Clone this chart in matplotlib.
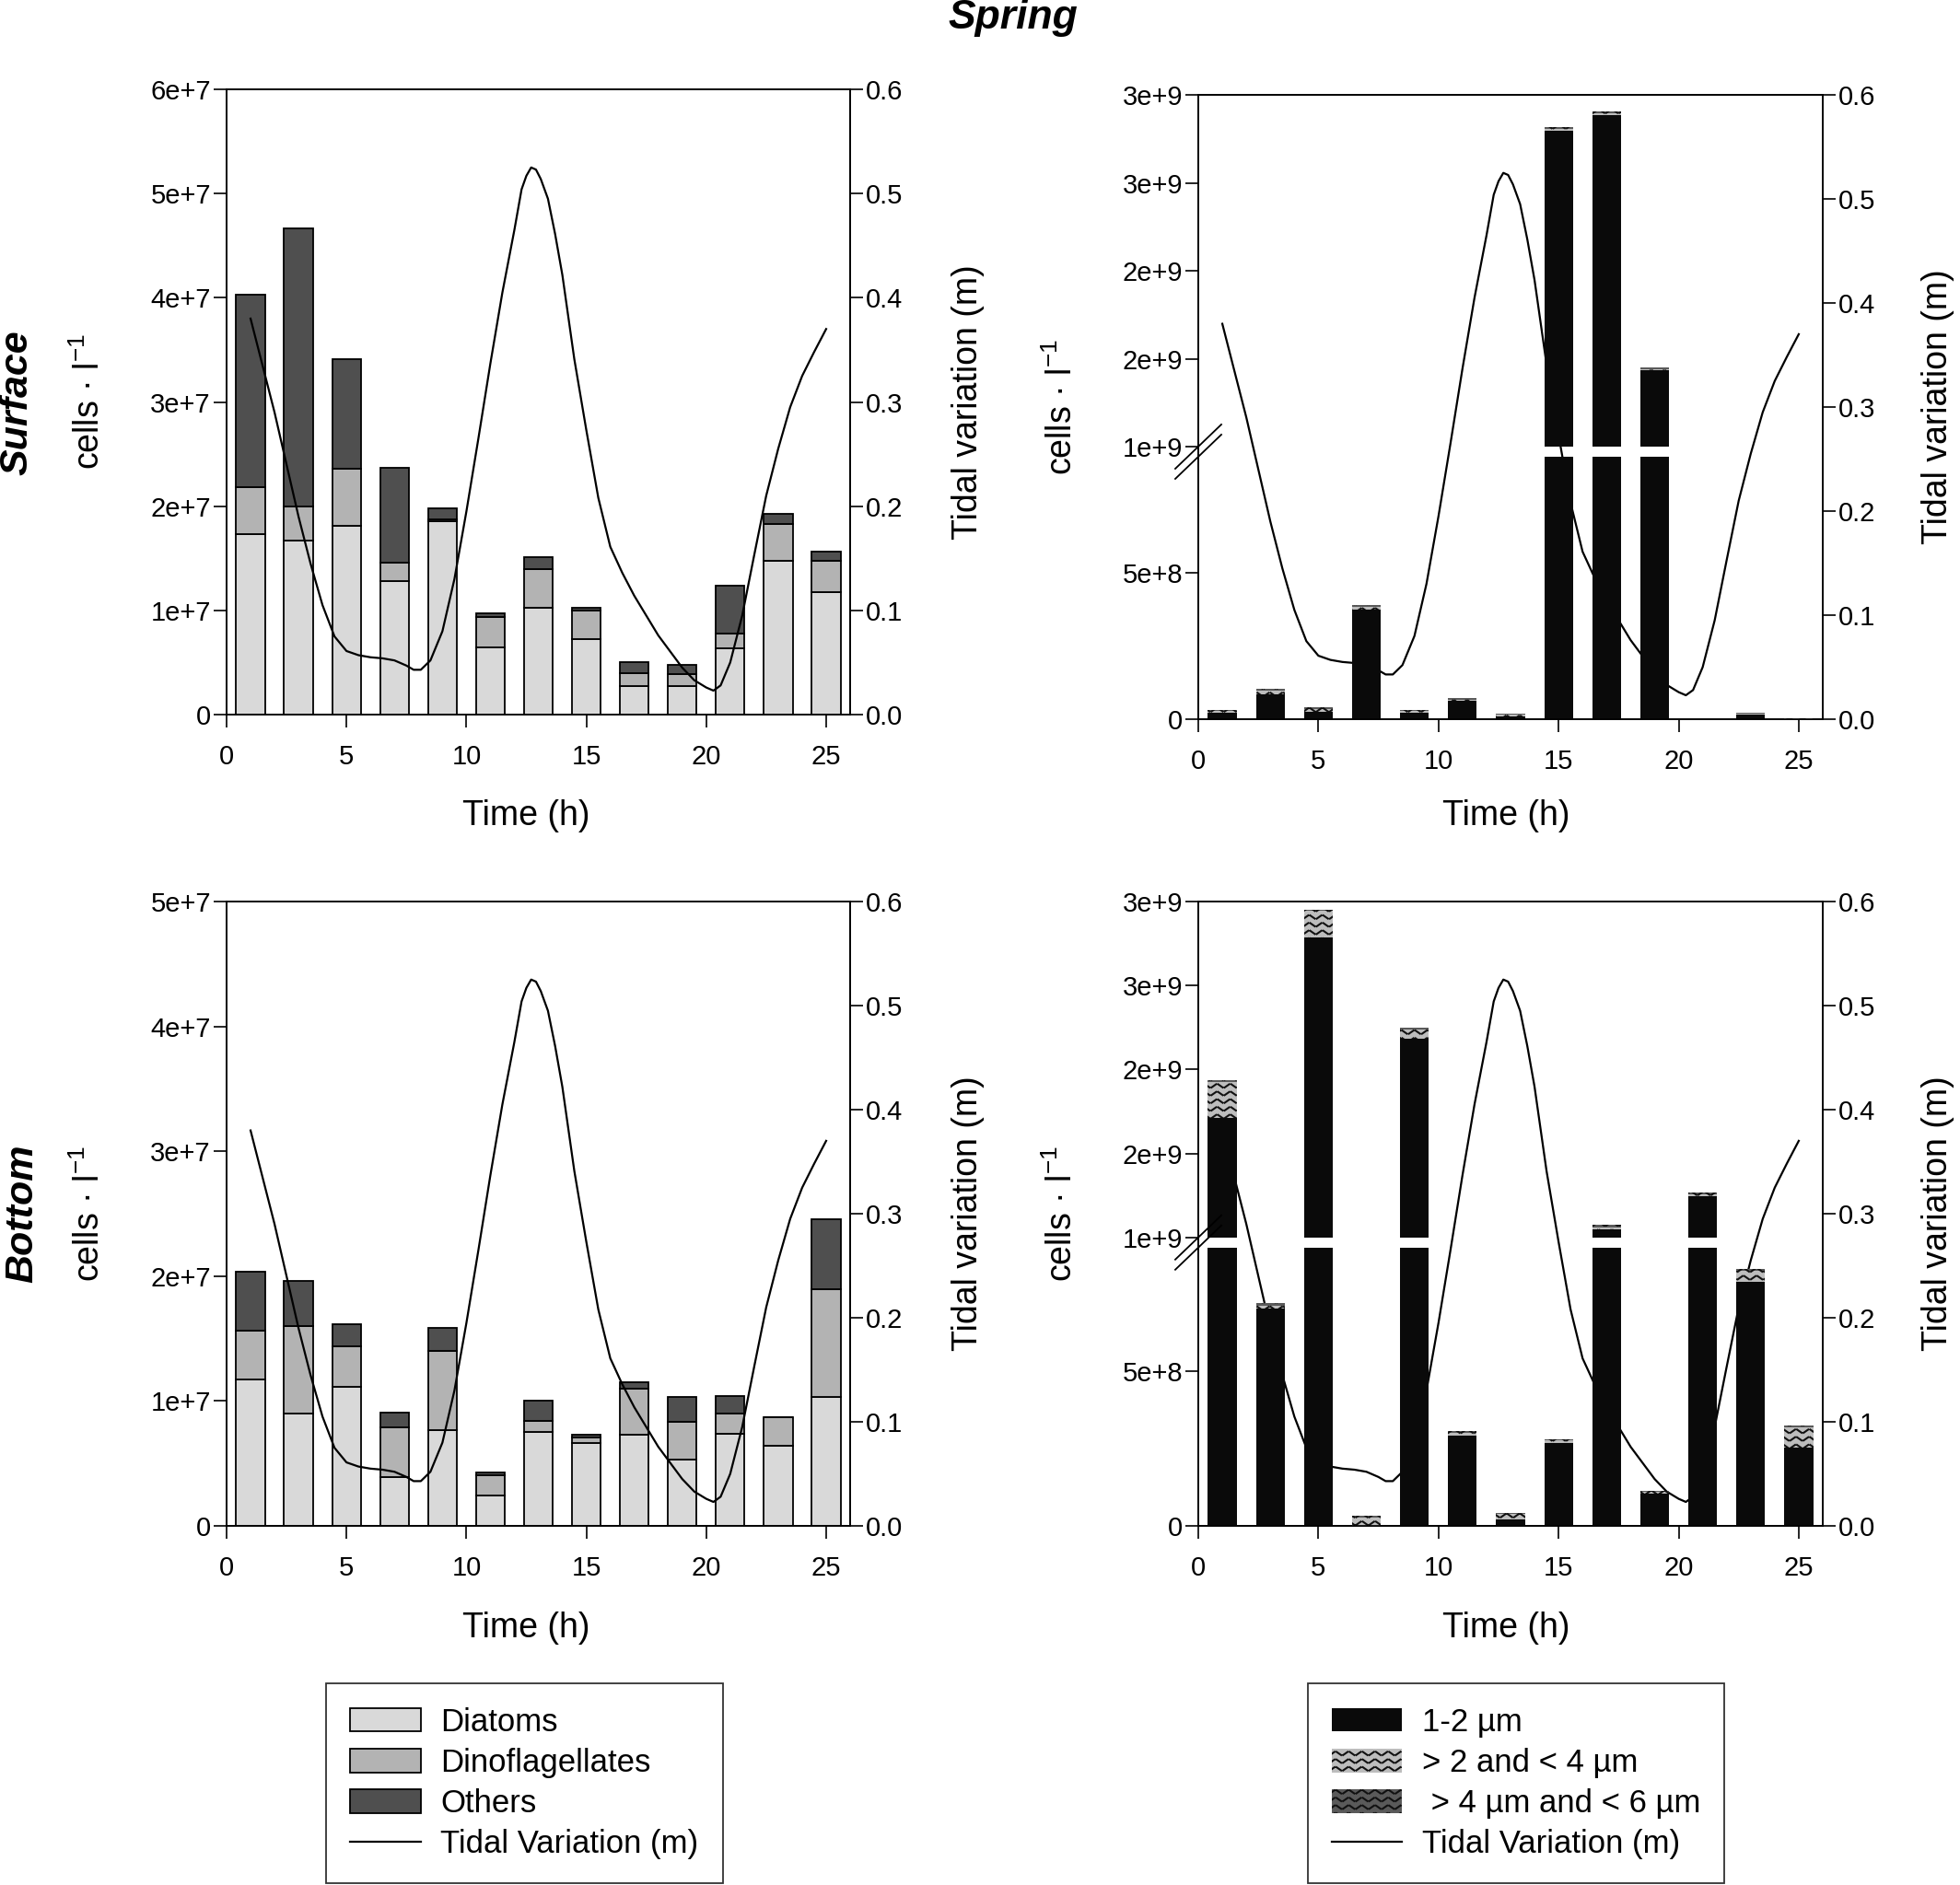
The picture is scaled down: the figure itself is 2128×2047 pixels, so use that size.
import warnings
import numpy as np
import matplotlib
matplotlib.use('Agg')
import matplotlib.pyplot as plt
from matplotlib import hatch as mhatch
from matplotlib.path import Path
from matplotlib.patches import Patch
from matplotlib.lines import Line2D

warnings.filterwarnings('ignore')
plt.rcParams['font.family'] = ['Liberation Sans', 'DejaVu Sans']
plt.rcParams['mathtext.fontset'] = 'custom'
plt.rcParams['mathtext.rm'] = 'Liberation Sans'
plt.rcParams['hatch.color'] = '#111111'
plt.rcParams['hatch.linewidth'] = 1.5

############################################################
# data (cells per litre)
############################################################
hours = [1, 3, 5, 7, 9, 11, 13, 15, 17, 19, 21, 23, 25]

# surface, phytoplankton groups
surf_diatoms = [1.735e7, 1.667e7, 1.81e7, 1.28e7, 1.855e7, 0.645e7, 1.026e7, 0.722e7, 0.274e7, 0.278e7, 0.637e7, 1.479e7, 1.175e7]
surf_dinos = [0.445e7, 0.333e7, 0.545e7, 0.18e7, 0.021e7, 0.291e7, 0.367e7, 0.278e7, 0.126e7, 0.115e7, 0.137e7, 0.346e7, 0.304e7]
surf_others = [1.85e7, 2.67e7, 1.055e7, 0.91e7, 0.104e7, 0.038e7, 0.117e7, 0.026e7, 0.104e7, 0.081e7, 0.466e7, 0.098e7, 0.089e7]

# bottom, phytoplankton groups
bot_diatoms = [1.175e7, 0.9e7, 1.111e7, 0.393e7, 0.764e7, 0.243e7, 0.75e7, 0.661e7, 0.732e7, 0.529e7, 0.739e7, 0.639e7, 1.036e7]
bot_dinos = [0.389e7, 0.7e7, 0.325e7, 0.393e7, 0.64e7, 0.164e7, 0.089e7, 0.046e7, 0.368e7, 0.303e7, 0.161e7, 0.232e7, 0.857e7]
bot_others = [0.468e7, 0.36e7, 0.178e7, 0.124e7, 0.185e7, 0.022e7, 0.161e7, 0.022e7, 0.054e7, 0.2e7, 0.143e7, 0.0, 0.561e7]

# surface, picoplankton size classes
surf_p12 = [2.2e7, 8.4e7, 2.4e7, 3.76e8, 2.1e7, 6.4e7, 1.1e7, 2.797e9, 2.886e9, 1.436e9, 0.0, 1.5e7, 0.1e7]
surf_p24 = [0.6e7, 1.3e7, 1.0e7, 0.9e7, 0.6e7, 0.3e7, 0.4e7, 0.9e7, 0.8e7, 0.8e7, 0.0, 0.4e7, 0.3e7]
surf_p46 = [0.3e7, 0.8e7, 0.6e7, 0.5e7, 0.4e7, 0.5e7, 0.3e7, 1.2e7, 1.2e7, 1.0e7, 0.0, 0.4e7, 0.05e7]

# bottom, picoplankton size classes
bot_p12 = [1.712e9, 7.02e8, 2.788e9, 0.0, 2.182e9, 2.93e8, 2.2e7, 2.69e8, 1.048e9, 1.05e8, 1.244e9, 7.88e8, 2.52e8]
bot_p24 = [2.15e8, 1.0e7, 1.55e8, 2.8e7, 5.6e7, 0.8e7, 1.8e7, 0.7e7, 1.3e7, 0.4e7, 1.4e7, 3.5e7, 6.5e7]
bot_p46 = [1.0e7, 0.7e7, 0.9e7, 0.4e7, 1.3e7, 0.6e7, 0.3e7, 0.5e7, 1.3e7, 0.3e7, 1.3e7, 0.6e7, 0.7e7]

# tidal variation (m)
tide_t = [1, 1.5, 2, 2.5, 3, 3.5, 4, 4.5, 5, 5.5, 6, 6.5, 7, 7.5, 7.8, 8.1, 8.5, 9, 9.5, 10, 10.5, 11, 11.5, 12,
          12.3, 12.5, 12.7, 12.9, 13.1, 13.4, 13.7, 14, 14.5, 15, 15.5, 16, 16.5, 17, 18, 19, 19.5, 20, 20.3,
          20.6, 21, 21.5, 22, 22.5, 23, 23.5, 24, 24.5, 25]
tide_h = [0.38, 0.335, 0.29, 0.24, 0.19, 0.145, 0.105, 0.075, 0.061, 0.057, 0.055, 0.054, 0.052, 0.047, 0.043,
          0.043, 0.052, 0.08, 0.13, 0.195, 0.265, 0.337, 0.405, 0.465, 0.504, 0.517, 0.525, 0.523, 0.514, 0.495,
          0.461, 0.422, 0.341, 0.273, 0.208, 0.161, 0.136, 0.114, 0.076, 0.045, 0.033, 0.026, 0.023, 0.028,
          0.05, 0.095, 0.153, 0.21, 0.255, 0.295, 0.325, 0.348, 0.37]

group_names = ['Diatoms', 'Dinoflagellates', 'Others']
group_colors = ['#d9d9d9', '#b3b3b3', '#4f4f4f']
size_names = ['1-2 µm', '> 2 and < 4 µm', ' > 4 µm and < 6 µm']
size_colors = ['#0a0a0a', '#bdbdbd', '#5a5a5a']
size_hatch = [None, '~~', '~~']

tide_ticks = [0.0, 0.1, 0.2, 0.3, 0.4, 0.5, 0.6]
pico_ticks = [0, 5e8, 1e9, 1.5e9, 2e9, 2.5e9, 3e9]
pico_ticklabels = ['0', '5e+8', '1e+9', '2e+9', '2e+9', '3e+9', '3e+9']

BRK_LO, BRK_HI, PICO_TOP = 9e8, 1e9, 3e9


# dashed zig-zag hatch, close to the SigmaPlot wave fill
class WaveHatch(mhatch.HatchPatternBase):
    teeth = 7

    def __init__(self, hatch, density):
        self.num_rows = int(hatch.count('~') * density)
        self.num_vertices = self.num_rows * self.teeth * 2 * 2

    def set_vertices_and_codes(self, vertices, codes):
        rows = (np.arange(self.num_rows) + 0.5) / self.num_rows
        amp = 0.3 / self.num_rows
        step = 1.0 / (self.teeth * 2)
        i = 0
        for y in rows:
            for k in range(self.teeth * 2):
                x0, x1 = k * step, (k + 1) * step
                y0, y1 = (y - amp, y + amp) if k % 2 == 0 else (y + amp, y - amp)
                vertices[i] = (x0 + 0.15 * step, y0 + 0.15 * (y1 - y0))
                vertices[i + 1] = (x1 - 0.15 * step, y1 - 0.15 * (y1 - y0))
                codes[i] = Path.MOVETO
                codes[i + 1] = Path.LINETO
                i += 2


mhatch._hatch_types.append(WaveHatch)

W, H = 2128, 2047
fig = plt.figure(figsize=(W / 100, H / 100), dpi=100)

def px_axes(x0, y0, x1, y1):
    return fig.add_axes([x0 / W, 1 - y1 / H, (x1 - x0) / W, (y1 - y0) / H])

TICK = 21
LAB = 27
BAR_W = 1.2


def style_axes(ax, ax2, xlab_pos, ylab_x, tlab_x):
    for a in (ax, ax2):
        for s in a.spines.values():
            s.set_linewidth(1.2)
        a.tick_params(direction='out', length=9.8, width=1.2, labelsize=TICK, pad=2.5)
    ax.tick_params(axis='x', top=False, pad=13)
    ax.set_xlim(0, 26)
    ax.set_xticks([0, 5, 10, 15, 20, 25])
    ax2.set_ylim(0, 0.6)
    ax2.set_yticks(tide_ticks)
    ax2.set_yticklabels(['%.1f' % v for v in tide_ticks])
    ax.set_xlabel('Time (h)', fontsize=LAB)
    ax.xaxis.set_label_coords(*xlab_pos)
    ax.set_ylabel(r'cells · l$^{-1}$', fontsize=LAB)
    ax.yaxis.set_label_coords(ylab_x, 0.5)
    ax2.set_ylabel('Tidal variation (m)', fontsize=LAB)
    ax2.yaxis.set_label_coords(tlab_x, 0.5)


def group_panel(box, diat, dino, oth, ymax, xlab_pos):
    ax = px_axes(*box)
    ax2 = ax.twinx()
    bottom = np.zeros(len(hours))
    for vals, col in zip([diat, dino, oth], group_colors):
        ax.bar(hours, vals, BAR_W, bottom=bottom, color=col, edgecolor='black', linewidth=1.3, zorder=2)
        bottom = bottom + np.array(vals)
    ax2.plot(tide_t, tide_h, color='black', linewidth=1.6)
    ax.set_ylim(0, ymax)
    ticks = np.arange(0, ymax + 1, 1e7)
    ax.set_yticks(ticks)
    ax.set_yticklabels(['0'] + ['%de+7' % int(v / 1e7) for v in ticks[1:]])
    style_axes(ax, ax2, xlab_pos, -0.192, 1.163)
    return ax


def pico_panel(box, layers, lo_frac, gap_frac, xlab_pos):
    up_frac = 1 - lo_frac - gap_frac

    def fwd(v):
        v = np.asarray(v, dtype=float)
        return np.where(v <= BRK_LO, v / BRK_LO * lo_frac,
                        np.where(v < BRK_HI, lo_frac + (v - BRK_LO) / (BRK_HI - BRK_LO) * gap_frac,
                                 lo_frac + gap_frac + (v - BRK_HI) / (PICO_TOP - BRK_HI) * up_frac))

    def inv(f):
        f = np.asarray(f, dtype=float)
        return np.where(f <= lo_frac, f / lo_frac * BRK_LO,
                        np.where(f < lo_frac + gap_frac, BRK_LO + (f - lo_frac) / gap_frac * (BRK_HI - BRK_LO),
                                 BRK_HI + (f - lo_frac - gap_frac) / up_frac * (PICO_TOP - BRK_HI)))

    ax = px_axes(*box)
    ax2 = ax.twinx()
    # tide line sits behind the bars here
    ax.set_zorder(ax2.get_zorder() + 1)
    ax.patch.set_visible(False)
    ax2.plot(tide_t, tide_h, color='black', linewidth=1.6)

    ax.set_yscale('function', functions=(fwd, inv))
    bottom = np.zeros(len(hours))
    for vals, col, hat in zip(layers, size_colors, size_hatch):
        top = bottom + np.array(vals)
        # piece below the break
        h1 = np.clip(np.minimum(top, BRK_LO) - bottom, 0, None)
        ax.bar(hours, h1, BAR_W, bottom=bottom, color=col, hatch=hat, linewidth=0, zorder=2)
        # piece above the break
        b2 = np.maximum(bottom, BRK_HI)
        h2 = np.clip(top - b2, 0, None)
        ax.bar(hours, h2, BAR_W, bottom=b2, color=col, hatch=hat, linewidth=0, zorder=2)
        bottom = top
    ax.set_ylim(0, PICO_TOP)
    ax.set_yticks(pico_ticks)
    ax.set_yticklabels(pico_ticklabels)
    ax.minorticks_off()
    style_axes(ax, ax2, xlab_pos, -0.19, 1.158)

    # break marks on the left axis
    yc = lo_frac + gap_frac / 2
    dx = 25 / (box[2] - box[0])
    dy = 24 / (box[3] - box[1])
    off = 5.5 / (box[3] - box[1])
    for o in (-off, off):
        ax.plot([-dx, dx], [yc - dy + o, yc + dy + o], transform=ax.transAxes,
                color='black', linewidth=1.3, clip_on=False, zorder=5)
    return ax


group_panel((246, 97, 923, 776), surf_diatoms, surf_dinos, surf_others, 6e7, (0.48, -0.136))
group_panel((246, 979, 923, 1657), bot_diatoms, bot_dinos, bot_others, 5e7, (0.48, -0.137))
pico_panel((1301, 103, 1979, 781), [surf_p12, surf_p24, surf_p46], 0.421, 0.015, (0.493, -0.128))
pico_panel((1301, 979, 1979, 1657), [bot_p12, bot_p24, bot_p46], 0.446, 0.0157, (0.493, -0.137))

fig.text(1100 / W, 1 - 19 / H, 'Spring', fontsize=32, fontweight='bold', fontstyle='italic',
         ha='center', va='center')
fig.text(18 / W, 1 - 437 / H, 'Surface', fontsize=31, fontweight='bold', fontstyle='italic',
         rotation=90, ha='center', va='center')
fig.text(24 / W, 1 - 1318 / H, 'Bottom', fontsize=31, fontweight='bold', fontstyle='italic',
         rotation=90, ha='center', va='center')

leg_kw = dict(loc='center', fontsize=25, frameon=True, fancybox=False, edgecolor='black',
              borderpad=0.75, handlelength=2.2, handleheight=0.75, handletextpad=0.62,
              labelspacing=0.32)

h1 = [Patch(facecolor=c, edgecolor='black', linewidth=1.3) for c in group_colors]
h1.append(Line2D([], [], color='black', linewidth=1.6))
lg1 = fig.legend(h1, group_names + ['Tidal Variation (m)'], bbox_to_anchor=(569.5 / W, 1 - 1936.5 / H), **leg_kw)
lg1.get_frame().set_linewidth(1.3)

h2 = [Patch(facecolor=c, hatch=h, linewidth=0) for c, h in zip(size_colors, size_hatch)]
h2.append(Line2D([], [], color='black', linewidth=1.6))
lg2 = fig.legend(h2, size_names + ['Tidal Variation (m)'], bbox_to_anchor=(1646 / W, 1 - 1936.5 / H),
                 handler_map=None, **leg_kw)
lg2.get_frame().set_linewidth(1.3)

fig.savefig('out.png', dpi=100)
